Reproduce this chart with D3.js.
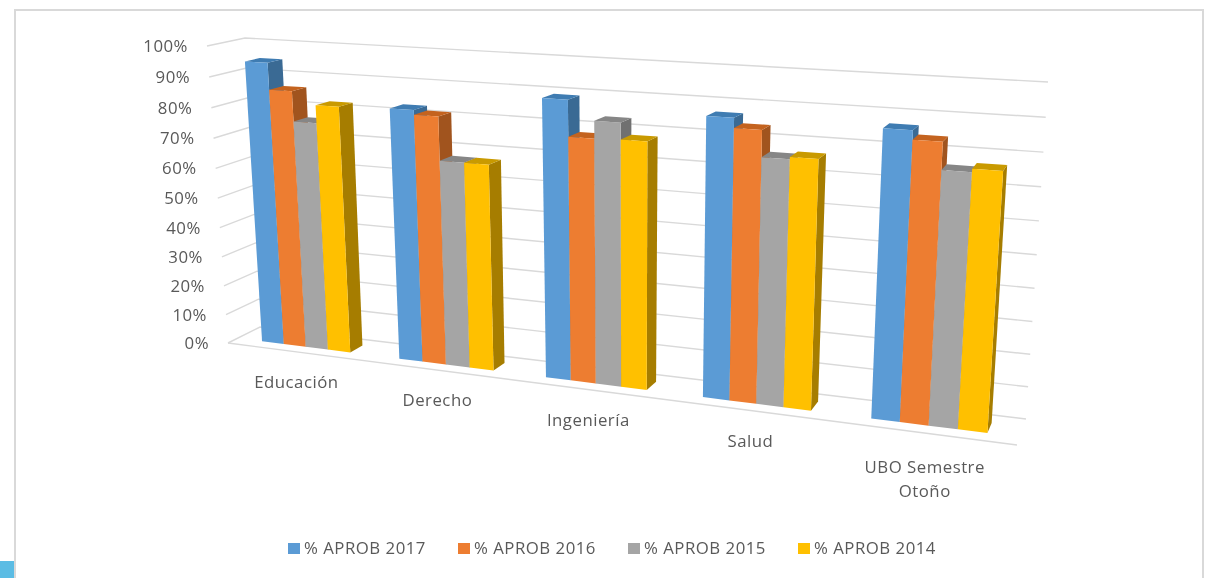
<!DOCTYPE html>
<html><head><meta charset="utf-8">
<script src="https://d3js.org/d3.v7.min.js"></script>
<style>html,body{margin:0;padding:0;background:#fff;overflow:hidden}svg{display:block;filter:blur(.45px)}text{letter-spacing:.5px}</style>
</head><body><svg id="c" width="1209" height="578"></svg>
<script>
const categories = ["Educación","Derecho","Ingeniería","Salud","UBO Semestre\nOtoño"];
const seriesNames = ["% APROB 2017","% APROB 2016","% APROB 2015","% APROB 2014"];
const aprob2017 = [0.947,0.826,0.89,0.868,0.866];
const aprob2016 = [0.86,0.811,0.777,0.838,0.839];
const aprob2015 = [0.762,0.671,0.831,0.758,0.759];
const aprob2014 = [0.82,0.671,0.78,0.765,0.769];
const seriesValues = [aprob2017,aprob2016,aprob2015,aprob2014];
const frontColors = ["#5B9BD5","#ED7D31","#A5A5A5","#FFC000"];
const topColors = ["#3F7CB2","#C4631F","#868686","#C99A00"];
const sideColors = ["#3A6A94","#A1541E","#707070","#A67D00"];

// Perspective frame of the 3-D plot: walls as screen quads [bottom-left, bottom-right, top-right, top-left]
const backWall = [[260,327],[1026,419],[1048,82],[245,38]];
const frontPlane = [[228,343],[1017,445],[1040,93],[207,46]];
function quadMap(q){
  const [[x0,y0],[x1,y1],[x2,y2],[x3,y3]] = q;
  const sx=x0-x1+x2-x3, sy=y0-y1+y2-y3, dx1=x1-x2, dx2=x3-x2, dy1=y1-y2, dy2=y3-y2;
  const den=dx1*dy2-dx2*dy1, g=(sx*dy2-dx2*sy)/den, h=(dx1*sy-sx*dy1)/den;
  const a=x1-x0+g*x1, b=x3-x0+h*x3, d=y1-y0+g*y1, e=y3-y0+h*y3;
  return (u,v)=>{const w=g*u+h*v+1;return [(a*u+b*v+x0)/w,(d*u+e*v+y0)/w];};
}
const mapBack=quadMap(backWall), mapFront=quadMap(frontPlane);
const project=(u,v,z)=>{const b=mapBack(u,v),f=mapFront(u,v);return [b[0]+(f[0]-b[0])*z,b[1]+(f[1]-b[1])*z];};

const x0=d3.scaleBand().domain(categories).range([0.002,1.0]).paddingInner(.35).paddingOuter(.175);
const x1=d3.scaleBand().domain(seriesNames).range([0,x0.bandwidth()]);
const y=d3.scaleLinear().domain([0,1]).range([0,1]);
const depth=d3.scaleLinear().domain([0,1]).range([0.3,0.7]);
const pct=d3.format(".0%");

const svg=d3.select("#c");
const GRID="#D9D9D9", TXT="#595959", FONT="'Open Sans',sans-serif";
svg.append("rect").attr("x",15).attr("y",10).attr("width",1188).attr("height",590).attr("fill","#fff").attr("stroke","#D9D9D9").attr("stroke-width",2);
svg.append("rect").attr("x",0).attr("y",561).attr("width",14).attr("height",17).attr("fill","#5BBCE4");

const line=d3.line();
const ticks=y.ticks(10);
const grid=svg.append("g").attr("fill","none").attr("stroke",GRID).attr("stroke-width",1.4);
ticks.forEach(t=>{
  grid.append("path").attr("d",line([project(0,y(t),1),project(0,y(t),0),project(1,y(t),0)]));
});
grid.append("path").attr("d",line([project(0,0,1),project(1,0,1)]));

svg.append("g").selectAll("text").data(ticks).join("text")
  .attr("x",t=>project(0,y(t),1)[0]-19).attr("y",t=>project(0,y(t),1)[1]+1.5)
  .attr("text-anchor","end").attr("dominant-baseline","middle")
  .attr("font-family",FONT).attr("font-size",16.8).attr("fill",TXT).text(pct);

const bars=svg.append("g");
categories.forEach((c,ci)=>{
  seriesNames.forEach((s,si)=>{
    const v=y(seriesValues[si][ci]);
    const a=x0(c)+x1(s), b=a+x1.bandwidth();
    const zf=depth(1), zb=depth(0);
    const poly=(pts,col)=>bars.append("polygon").attr("points",pts.map(p=>p.join(",")).join(" ")).attr("fill",col);
    poly([project(b,0,zf),project(b,0,zb),project(b,v,zb),project(b,v,zf)],sideColors[si]);
    poly([project(a,v,zf),project(b,v,zf),project(b,v,zb),project(a,v,zb)],topColors[si]);
    poly([project(a,0,zf),project(b,0,zf),project(b,v,zf),project(a,v,zf)],frontColors[si]);
  });
});

const labels=svg.append("g").attr("font-family",FONT).attr("font-size",16.8).attr("fill",TXT).attr("text-anchor","middle");
categories.forEach(c=>{
  const p=project(x0(c)+x0.bandwidth()/2,0,1);
  const rows=c.split("\n");
  rows.forEach((r,i)=>labels.append("text").attr("x",p[0]).attr("y",p[1]+36+(rows.length>1?4:0)+i*24).text(r));
});

const legendX=d3.scalePoint().domain(seriesNames).range([288,798]);
const lg=svg.append("g").selectAll("g").data(seriesNames).join("g").attr("transform",d=>`translate(${legendX(d)},543)`);
lg.append("rect").attr("width",12).attr("height",11).attr("fill",(d,i)=>frontColors[i]);
lg.append("text").attr("x",16).attr("y",11).attr("font-family",FONT).attr("font-size",16.8).attr("fill",TXT).text(d=>d);
</script></body></html>
